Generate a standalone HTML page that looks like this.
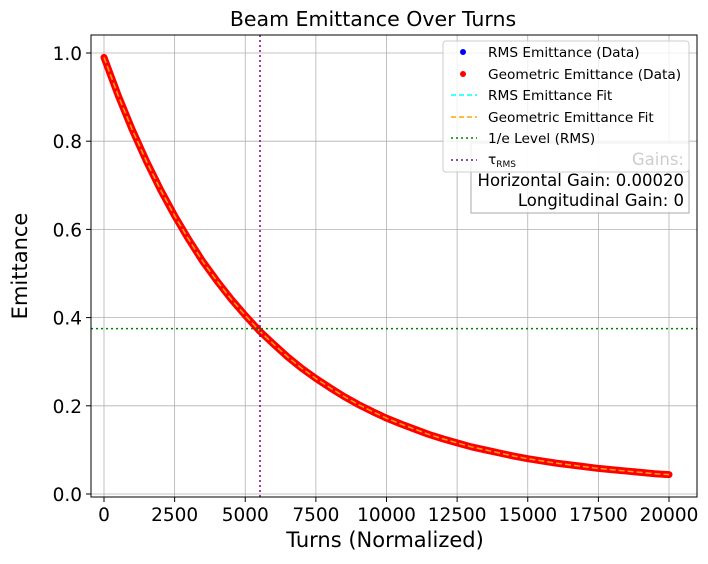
<!DOCTYPE html>
<html><head><meta charset="utf-8"><style>
body{margin:0;background:#fff;font-family:"DejaVu Sans","Liberation Sans",sans-serif}
</style></head><body>
<svg id="c" width="708" height="560" xmlns="http://www.w3.org/2000/svg" font-family="DejaVu Sans, Liberation Sans, sans-serif"></svg>
<script>
const turns=[0,500,1000,1500,2000,2500,3000,3500,4000,4500,5000,5500,6000,6500,7000,7500,8000,8500,9000,9500,10000,10500,11000,11500,12000,12500,13000,13500,14000,14500,15000,15500,16000,16500,17000,17500,18000,18500,19000,19500,20000];
const emittance=[0.990,0.904,0.826,0.755,0.690,0.631,0.577,0.527,0.483,0.442,0.405,0.370,0.340,0.311,0.285,0.262,0.241,0.221,0.203,0.187,0.172,0.159,0.147,0.135,0.125,0.116,0.107,0.100,0.093,0.086,0.080,0.075,0.070,0.066,0.062,0.058,0.055,0.052,0.049,0.046,0.044];
const xTicks=[0,2500,5000,7500,10000,12500,15000,17500,20000];
const yTicks=[0.0,0.2,0.4,0.6,0.8,1.0];
const tau=5522, eLevel=0.375;
const L=91,R=697,T=35,B=497;
const X=v=>104+v*(565/20000), Y=v=>494-v*441;
const svg=document.getElementById('c');const NS='http://www.w3.org/2000/svg';
function el(t,a,p){const e=document.createElementNS(NS,t);for(const k in a)e.setAttribute(k,a[k]);(p||svg).appendChild(e);return e;}
xTicks.forEach(v=>{const g=el('line',{x1:X(v),x2:X(v),y1:T,y2:B,stroke:'#b0b0b0','stroke-width':0.8});

el('line',{x1:X(v),x2:X(v),y1:B,y2:B+5,stroke:'#000'});
const t=el('text',{x:X(v),y:B+24,'text-anchor':'middle','font-size':18.5});t.textContent=v;
});
yTicks.forEach(v=>{const g=el('line',{x1:L,x2:R,y1:Y(v),y2:Y(v),stroke:'#b0b0b0','stroke-width':0.8});

el('line',{x1:L-5,x2:L,y1:Y(v),y2:Y(v),stroke:'#000'});
const t=el('text',{x:L-9,y:Y(v)+7,'text-anchor':'end','font-size':18.5});t.textContent=v.toFixed(1);
});
const pts=turns.map((t,i)=>X(t)+','+Y(emittance[i])).join(' ');
const d=el('polyline',{points:pts,fill:'none',stroke:'#ff0000','stroke-width':7,'stroke-linecap':'round','stroke-linejoin':'round'});

const f=el('polyline',{points:pts,fill:'none',stroke:'#ffa500','stroke-width':1.5,'stroke-dasharray':'6,3'});

const h=el('line',{x1:L,x2:R,y1:Y(eLevel),y2:Y(eLevel),stroke:'green','stroke-width':1.5,'stroke-dasharray':'2,3'});

const v=el('line',{x1:X(tau),x2:X(tau),y1:T,y2:B,stroke:'purple','stroke-width':1.5,'stroke-dasharray':'2,3'});

</script>
<svg width="708" height="560" style="position:absolute;left:0;top:0" font-family="DejaVu Sans, Liberation Sans, sans-serif">
<rect x="91" y="35" width="606" height="462" fill="none" stroke="#000" stroke-width="1"/>
<text x="373" y="26" text-anchor="middle" font-size="20.5">Beam Emittance Over Turns</text>
<text x="385" y="547" text-anchor="middle" font-size="21">Turns (Normalized)</text>
<text transform="translate(27,266) rotate(-90)" text-anchor="middle" font-size="21">Emittance</text>
<g font-size="16.5" text-anchor="end">
<rect x="471" y="143" width="218" height="70" fill="#fff" fill-opacity="0.8" stroke="#aaa"/>
<text x="684" y="165">Gains:</text>
<text x="684" y="186">Horizontal Gain: 0.00020</text>
<text x="684" y="206">Longitudinal Gain: 0</text>
</g>
<g font-size="13.7">
<rect x="443" y="41" width="246" height="131" rx="3" fill="#fff" fill-opacity="0.8" stroke="#ccc"/>
<circle cx="463" cy="52" r="3" fill="blue"/><text x="488" y="57">RMS Emittance (Data)</text>
<circle cx="463" cy="74" r="3" fill="red"/><text x="488" y="79">Geometric Emittance (Data)</text>
<line x1="451" x2="477" y1="95" y2="95" stroke="cyan" stroke-width="1.5" stroke-dasharray="5,3"/><text x="488" y="100">RMS Emittance Fit</text>
<line x1="451" x2="477" y1="117" y2="117" stroke="orange" stroke-width="1.5" stroke-dasharray="5,3"/><text x="488" y="122">Geometric Emittance Fit</text>
<line x1="451" x2="477" y1="138" y2="138" stroke="green" stroke-width="1.5" stroke-dasharray="2,3"/><text x="488" y="143">1/e Level (RMS)</text>
<line x1="451" x2="477" y1="160" y2="160" stroke="purple" stroke-width="1.5" stroke-dasharray="2,3"/><text x="488" y="164">τ<tspan font-size="9" dy="3">RMS</tspan></text>
</g>
</svg>
</body></html>
